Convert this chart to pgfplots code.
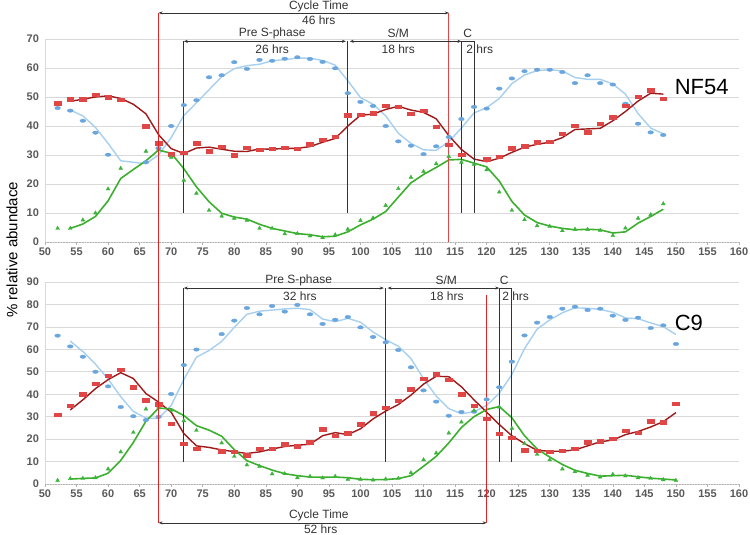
\documentclass[border=0pt]{standalone}
\usepackage{pgfplots}
\pgfplotsset{compat=1.18}
\usepackage{fontspec}
\setmainfont{Liberation Sans}
\usetikzlibrary{arrows.meta}
\definecolor{tickgray}{HTML}{595959}
\definecolor{gridgray}{HTML}{D9D9D9}
\definecolor{bluept}{HTML}{6AA6DE}
\definecolor{blueln}{HTML}{A6CFF0}
\definecolor{redpt}{HTML}{E04646}
\definecolor{redln}{HTML}{9E1A1A}
\definecolor{greenpt}{HTML}{3CB43C}
\definecolor{greenln}{HTML}{3DAF2F}
\definecolor{annot}{HTML}{333333}
\definecolor{vred}{HTML}{E02424}

\tikzset{
  arr/.style={annot, line width=0.6pt, {Stealth[length=4pt,width=3pt]}-{Stealth[length=4pt,width=3pt]}},
  vln/.style={annot, line width=0.8pt},
  atx/.style={annot, font=\fontsize{12}{14}\selectfont, inner sep=0pt},
}
\pgfplotsset{
  panel/.style={
    scale only axis, width=694pt,
    xmin=50, xmax=160, ymin=0,
    xtick={50,55,...,160},
    axis x line*=bottom, axis y line*=left,
    ymajorgrids, grid style={gridgray, line width=0.7pt},
    x axis line style={gray!60, densely dotted, line width=0.6pt},
    y axis line style={gridgray, line width=0.6pt},
    tick label style={font=\bfseries\fontsize{11}{12}\selectfont, text=tickgray},
    /pgf/number format/assume math mode=true,
    clip=false,
    ytick style={draw=none},
    xtick style={gray!60, line width=0.5pt},
    tick align=outside, major tick length=2.5pt,
  },
  bpt/.style={only marks, mark=*, mark size=1.8pt, mark options={xscale=1.6, yscale=0.95, fill=bluept, draw=bluept}},
  rpt/.style={only marks, mark=square*, mark size=2pt, mark options={xscale=1.65, yscale=0.85, fill=redpt, draw=redpt}},
  gpt/.style={only marks, mark=triangle*, mark size=2.2pt, mark options={fill=greenpt, draw=greenpt}},
  bln/.style={no marks, blueln, line width=1.4pt},
  rln/.style={no marks, redln, line width=1.4pt},
  gln/.style={no marks, greenln, line width=1.6pt},
}

\begin{document}
\begin{tikzpicture}
\path[use as bounding box] (0pt,0pt) rectangle (750pt,-535pt);

% ---------------- Top panel: NF54 ----------------
\begin{axis}[panel, height=203pt, ymax=70, ytick={0,10,...,70},
  at={(45pt,-242pt)}, anchor=south west]
\addplot[bpt] coordinates {(52,46.2)(54,45.3)(56,41.8)(58,37.7)(60,30.1)(66,27.5)(68,32.4)(70,40)(72,47.2)(74,48.9)(76,56.8)(78,57.5)(80,62)(82,59.7)(84,62.8)(86,62.5)(88,63.2)(90,63.7)(92,63.1)(94,62.1)(96,59.9)(98,51.3)(100,48.3)(102,46.9)(104,40)(106,34.7)(108,33.2)(110,30.3)(112,33)(114,36.2)(116,42.4)(118,46.6)(120,46)(122,52.9)(124,56.4)(126,58.9)(128,59.4)(130,59.4)(132,58.6)(134,54.8)(136,57.5)(138,54.8)(140,54.3)(142,47.7)(144,40.8)(146,37.8)(148,36.9)};
\addplot[rpt] coordinates {(52,47.8)(54,49.2)(56,49.3)(58,50.8)(60,50)(62,49.1)(66,39.9)(68,34.1)(70,30.3)(72,30.8)(74,34.1)(76,31.3)(78,32.8)(80,29.9)(82,32.5)(84,31.8)(86,32.2)(88,32.5)(90,32.1)(92,33.7)(94,35.2)(96,36.3)(98,43.7)(100,43.8)(102,44.4)(104,47)(106,46.7)(108,44.3)(110,45.2)(112,39.8)(114,33.6)(116,30.2)(120,28.5)(122,29.4)(124,32.4)(126,33)(128,34.4)(130,34.5)(132,37.4)(134,40.2)(136,37.8)(138,40.7)(140,43)(142,47)(144,50.2)(146,52.4)(148,49.5)};
\addplot[gpt] coordinates {(52,4.7)(54,4.7)(56,7.6)(58,10)(60,18.3)(62,25.4)(66,31.3)(68,32)(70,29.2)(72,21.3)(74,16.8)(76,10.9)(78,8.9)(80,8.2)(82,7.5)(84,4.7)(86,4.7)(88,2.8)(90,2.9)(92,2.1)(94,1.5)(96,2.5)(98,4.4)(100,7.4)(102,8.3)(104,12.6)(106,18.4)(108,22.3)(110,24.3)(112,27)(114,29.5)(116,27.5)(118,26.8)(120,24.9)(122,17.2)(124,10.9)(126,7.7)(128,5.6)(130,5.4)(132,3.9)(134,4.4)(136,4.3)(138,4)(140,2.2)(142,4.8)(144,8.2)(146,9.4)(148,13.2)};
\addplot[bln] coordinates {(54,45.5)(56,43.5)(58,39.5)(60,34)(62,28)(64,27.5)(66,27)(68,30)(70,36)(72,43.6)(74,48)(76,52.5)(78,57)(80,59.8)(82,60.8)(84,61.3)(86,62.5)(88,62.9)(90,63.4)(92,63.4)(94,62.6)(96,61)(98,55.6)(100,49.8)(102,47.5)(104,43.5)(106,37.5)(108,34)(110,31.8)(112,31.6)(114,34.6)(116,39.3)(118,44.5)(120,46.3)(122,49.5)(124,54.6)(126,57.6)(128,59.1)(130,59.4)(132,59)(134,56.7)(136,56.1)(138,56.1)(140,54.5)(142,51)(144,44.3)(146,39.3)(148,37.3)};
\addplot[rln] coordinates {(54,48.5)(56,49.25)(58,50)(60,50.4)(62,49.5)(64,47.5)(66,44.2)(68,37)(70,32.2)(72,30.5)(74,32.4)(76,32.7)(78,32)(80,31.3)(82,31.2)(84,32.1)(86,32)(88,32.3)(90,32.3)(92,32.9)(94,34.4)(96,35.7)(98,40)(100,43.7)(102,44.1)(104,45.7)(106,46.8)(108,45.5)(110,44.7)(112,42.5)(114,36.7)(116,31.9)(118,28.6)(120,27.7)(122,28.9)(124,30.9)(126,32.7)(128,33.7)(130,34.4)(132,36)(134,38.8)(136,39)(138,39.2)(140,41.8)(142,45)(144,48.6)(146,51.3)(148,51)};
\addplot[gln] coordinates {(54,4.7)(56,6.2)(58,8.8)(60,14.2)(62,21.9)(64,25)(66,28)(68,31.7)(70,30.6)(72,25.3)(74,19)(76,13.9)(78,9.9)(80,8.6)(82,7.9)(84,6.1)(86,4.7)(88,3.8)(90,2.9)(92,2.5)(94,1.8)(96,2)(98,3.5)(100,5.9)(102,7.9)(104,10.5)(106,15.5)(108,20.4)(110,23.3)(112,25.7)(114,28.3)(116,28.5)(118,27.2)(120,25.9)(122,21)(124,14)(126,9.3)(128,6.7)(130,5.5)(132,4.7)(134,4.2)(136,4.4)(138,4.2)(140,3.1)(142,3.5)(144,6.5)(146,8.8)(148,11.3)};
% annotations
\coordinate (rtop) at (axis cs:68,79);
\draw[vred!85, line width=0.9pt] (axis cs:114,79) -- (axis cs:114,0);
\draw[arr] (axis cs:68,79) -- (axis cs:114,79);
\node[atx] at (axis cs:93.4,81.4) {Cycle Time};
\node[atx] at (axis cs:93.4,76.4) {46 hrs};
\draw[vln] (axis cs:72,69.2) -- (axis cs:72,10);
\draw[vln] (axis cs:98,69.2) -- (axis cs:98,10);
\draw[vln] (axis cs:116,69.2) -- (axis cs:116,10);
\draw[vln] (axis cs:118,69.2) -- (axis cs:118,10);
\draw[arr] (axis cs:72,69.2) -- (axis cs:97.7,69.2);
\draw[arr] (axis cs:98.3,69.2) -- (axis cs:116,69.2);
\draw[annot, line width=0.6pt] (axis cs:116,69.2) -- (axis cs:118,69.2);
\node[atx] at (axis cs:86,72.1) {Pre S-phase};
\node[atx] at (axis cs:86,66.6) {26 hrs};
\node[atx] at (axis cs:106,72.1) {S/M};
\node[atx] at (axis cs:106,66.6) {18 hrs};
\node[atx] at (axis cs:117,72.1) {C};
\node[atx] at (axis cs:118.9,66.6) {2 hrs};
\node[anchor=west, font=\fontsize{22}{24}\selectfont, inner sep=0pt] at (axis cs:149.8,53.5) {NF54};
\end{axis}

% ---------------- Bottom panel: C9 ----------------
\begin{axis}[panel, height=202pt, ymax=90, ytick={0,10,...,90},
  at={(45pt,-484pt)}, anchor=south west]
\addplot[bpt] coordinates {(52,66.1)(54,61.3)(56,56.7)(58,50)(60,43.5)(62,34.3)(64,30.2)(66,28.5)(68,29.9)(70,40.1)(72,53)(74,59.9)(78,66.8)(80,72.8)(82,78.4)(84,75.6)(86,79.3)(88,76.8)(90,79.8)(92,75.6)(94,71.3)(96,73.2)(98,74.4)(100,69.8)(102,65.5)(104,63.1)(106,59.7)(108,52)(110,41.7)(112,36.7)(114,30.4)(116,32.1)(118,32.2)(120,37.7)(122,43.1)(124,54.5)(126,66.2)(128,71.9)(130,74.4)(132,78.1)(134,79)(136,77.5)(138,78.1)(140,75)(142,73.1)(144,74.1)(146,69.5)(148,70.7)(150,62.4)};
\addplot[rpt] coordinates {(52,30.9)(54,34.9)(56,40)(58,44.7)(60,48.3)(62,50.8)(64,43.1)(66,37.4)(68,35.5)(70,27)(72,18)(74,15.6)(78,14.6)(80,14.4)(82,12.8)(84,15.6)(86,15.6)(88,17.8)(90,16.8)(92,18.6)(94,24.4)(96,21.4)(98,22.6)(100,26.6)(102,31.5)(104,33.9)(106,37.1)(108,42.2)(110,46.9)(112,49)(114,46.6)(116,40)(118,34.9)(120,29.1)(122,22.3)(124,20.6)(126,15.1)(128,14.9)(130,14.4)(132,14.9)(134,15.6)(136,18.6)(138,19)(140,20.2)(142,23.8)(144,22.9)(146,27.9)(148,27.6)(150,35.9)};
\addplot[gpt] coordinates {(52,1.6)(54,2.4)(56,2.5)(58,2.8)(60,6.7)(62,14.3)(64,23)(66,33.4)(68,34.3)(70,32.8)(72,28.2)(74,23.9)(78,18.3)(80,12.3)(82,8.5)(84,7.9)(86,4.5)(88,4.6)(90,2.8)(92,3.4)(94,2.7)(96,3.4)(98,2.1)(100,2.1)(102,1.8)(104,2.2)(106,2.5)(108,5)(110,10.8)(112,13.8)(114,22.7)(116,27.6)(118,32.7)(122,34.3)(124,24.8)(126,18)(128,13.2)(130,10.8)(132,6.7)(134,5.5)(136,3.9)(138,3.1)(140,4.3)(142,3.6)(144,2.8)(146,2.5)(148,1.9)(150,1.6)};
\addplot[bln] coordinates {(54,63.7)(56,59)(58,53.4)(60,46.8)(62,38.9)(64,32.3)(66,29.4)(68,29.2)(70,35)(72,46.5)(74,56.5)(76,59.5)(78,63.5)(80,69.8)(82,75.6)(84,77)(86,77.5)(88,78)(90,78.3)(92,77.7)(94,73.5)(96,72.3)(98,73.8)(100,72.1)(102,67.7)(104,64.3)(106,61.4)(108,55.9)(110,46.9)(112,39.2)(114,33.6)(116,31.3)(118,32.2)(120,35)(122,40.4)(124,48.8)(126,60.3)(128,69)(130,73.1)(132,76.3)(134,78.5)(136,78.3)(138,77.8)(140,76.5)(142,74)(144,73.6)(146,71.8)(148,70.1)(150,66.6)};
\addplot[rln] coordinates {(54,33)(56,37.5)(58,42.5)(60,46.5)(62,49.6)(64,47)(66,40.3)(68,36.5)(70,32)(72,22.5)(74,17)(76,16.3)(78,15.2)(80,14.4)(82,13.6)(84,14.3)(86,15.6)(88,16.7)(90,17.3)(92,17.7)(94,21.5)(96,22.9)(98,22)(100,24.6)(102,29)(104,32.5)(106,35.4)(108,39.6)(110,44.5)(112,48)(114,47.8)(116,43.3)(118,37.5)(120,32)(122,26.5)(124,21.5)(126,18)(128,15)(130,14.6)(132,14.6)(134,15.2)(136,17)(138,18.8)(140,19.6)(142,22)(144,23.4)(146,25.4)(148,27.8)(150,31.8)};
\addplot[gln] coordinates {(54,2.2)(56,2.5)(58,2.7)(60,4.8)(62,10.5)(64,18.5)(66,28)(68,33.8)(70,33.5)(72,30.5)(74,26)(76,24)(78,21.3)(80,15.3)(82,10.4)(84,8.2)(86,6.2)(88,4.6)(90,3.7)(92,3.1)(94,3)(96,3.1)(98,2.8)(100,2.1)(102,1.9)(104,2)(106,2.4)(108,3.7)(110,7.9)(112,12.3)(114,18.3)(116,25.2)(118,30)(120,33.2)(122,34.5)(124,29.5)(126,21.5)(128,15.6)(130,12)(132,8.7)(134,6.1)(136,4.7)(138,3.5)(140,3.7)(142,3.9)(144,3.2)(146,2.6)(148,2.2)(150,1.8)};
% annotations
\coordinate (rbot) at (axis cs:68,-17.3);
\draw[vred, line width=0.9pt] (axis cs:120,84) -- (axis cs:120,-17.3);
\draw[arr] (axis cs:68,-17.3) -- (axis cs:120,-17.3);
\node[atx] at (axis cs:93.4,-13.8) {Cycle Time};
\node[atx] at (axis cs:93.7,-20.2) {52 hrs};
\draw[vln] (axis cs:72,87.3) -- (axis cs:72,10);
\draw[vln] (axis cs:104,87.3) -- (axis cs:104,10);
\draw[vln] (axis cs:122,87.3) -- (axis cs:122,10);
\draw[vln] (axis cs:124,87.3) -- (axis cs:124,10);
\draw[arr] (axis cs:72,87.3) -- (axis cs:103.7,87.3);
\draw[arr] (axis cs:104.3,87.3) -- (axis cs:122,87.3);
\draw[annot, line width=0.6pt] (axis cs:122,87.3) -- (axis cs:124,87.3);
\node[atx] at (axis cs:90.2,90.9) {Pre S-phase};
\node[atx] at (axis cs:90.4,83.6) {32 hrs};
\node[atx] at (axis cs:113.6,90.9) {S/M};
\node[atx] at (axis cs:113.7,83.6) {18 hrs};
\node[atx] at (axis cs:122.8,90.9) {C};
\node[atx] at (axis cs:124.6,83.6) {2 hrs};
\node[anchor=west, font=\fontsize{22}{24}\selectfont, inner sep=0pt] at (axis cs:149.8,71.8) {C9};
\end{axis}

\draw[vred, line width=0.9pt] (rtop) -- (rbot);
\node[rotate=90, font=\fontsize{15}{17}\selectfont, inner sep=0pt] at (12pt,-250pt) {\% relative abundace};
\end{tikzpicture}
\end{document}
